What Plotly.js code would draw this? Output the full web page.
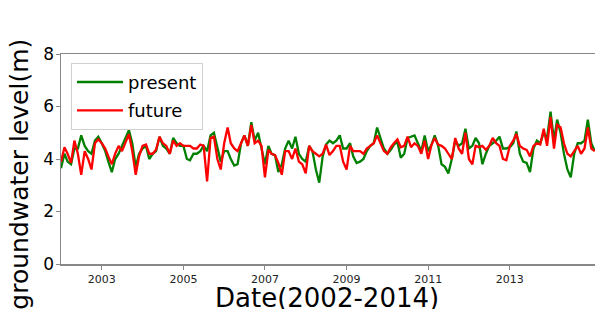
<!DOCTYPE html>
<html>
<head>
<meta charset="utf-8">
<script src="https://cdn.plot.ly/plotly-3.0.1.min.js"></script>
<style>html,body{margin:0;padding:0;background:#fff;}#chart{width:595px;height:309px;}</style>
</head>
<body>
<div id="chart"></div>
<script>
// monthly readings, starting January 2002
const startYear = 2002;
const present = [
  3.65, 4.2, 3.9, 3.8, 4.4, 4.4, 4.9, 4.5, 4.3, 4.2, 4.7, 4.85,
  4.6, 4.3, 3.9, 3.5, 4.0, 4.2, 4.5, 4.8, 5.1, 4.6, 3.7, 4.2,
  4.4, 4.5, 4.0, 4.2, 4.3, 4.85, 4.5, 4.4, 4.2, 4.8, 4.6, 4.5,
  4.5, 4.0, 3.95, 4.2, 4.2, 4.3, 4.5, 4.3, 4.9, 5.0, 4.4, 3.9,
  4.3, 4.3, 4.0, 3.75, 3.8, 4.6, 4.9, 4.5, 5.4, 4.7, 5.0, 4.4,
  3.8, 4.5, 4.2, 4.15, 3.5, 3.8, 4.4, 4.7, 4.4, 4.85, 4.2, 4.0,
  3.9, 4.5, 4.3, 3.6, 3.1, 4.1, 4.55, 4.7, 4.6, 4.7, 4.9, 4.4,
  4.4, 4.6, 4.1, 3.85, 3.9, 4.0, 4.3, 4.5, 4.6, 5.2, 4.8, 4.4,
  4.2, 4.35, 4.55, 4.65, 4.05, 4.2, 4.8, 4.85, 4.9, 4.6, 4.3, 4.9,
  4.3, 4.55, 4.9, 4.5, 3.8, 3.7, 3.45, 4.0, 4.7, 4.5, 4.6, 5.15,
  4.4, 4.5, 4.8, 4.6, 3.8, 4.2, 4.5, 4.6, 4.7, 4.85, 4.4, 4.4,
  4.45, 4.6, 5.05, 4.2, 3.9, 3.85, 3.5, 4.4, 4.7, 4.6, 5.0, 4.8,
  5.8, 4.7, 5.5, 5.0, 4.2, 3.6, 3.3, 4.2, 4.6, 4.6, 4.7, 5.5,
  4.6, 4.3
];
const future = [
  3.9, 4.45, 4.2, 3.85, 4.7, 4.2, 3.4, 4.3, 4.0, 3.6, 4.6, 4.75,
  4.6, 4.4, 4.1, 3.8, 4.2, 4.5, 4.3, 4.6, 4.95, 4.3, 3.4, 4.1,
  4.5, 4.55, 4.2, 4.2, 4.35, 4.85, 4.6, 4.5, 4.2, 4.7, 4.5, 4.6,
  4.5, 4.5, 4.5, 4.4, 4.4, 4.55, 4.5, 3.15, 4.8, 4.85, 4.0, 3.6,
  4.6, 5.2, 4.6, 4.4, 4.3, 4.6, 4.9, 4.5, 5.3, 4.6, 4.7, 4.5,
  3.3, 4.35, 4.2, 4.15, 3.85, 3.4, 4.3, 4.3, 4.0, 4.4, 3.9, 3.8,
  3.45, 4.5, 4.3, 4.2, 4.1, 4.2, 4.55, 4.15, 4.3, 4.5, 4.5, 3.9,
  3.6, 4.5, 4.3, 4.3, 4.3, 4.2, 4.4, 4.5, 4.6, 4.9, 4.6, 4.3,
  4.2, 4.45, 4.6, 4.75, 4.45, 4.5, 4.85, 4.45, 4.6, 4.5, 4.2, 4.7,
  4.0, 4.55, 4.8, 4.55, 4.5, 4.4, 4.2, 4.0, 4.8, 4.4, 4.2, 5.0,
  4.0, 3.8, 4.5, 4.45, 4.5, 4.35, 4.5, 4.8, 4.6, 4.5, 4.0, 3.95,
  4.5, 4.7, 4.95, 4.5, 4.4, 4.35, 4.1, 4.5, 4.6, 4.55, 5.15, 4.5,
  5.6, 4.4, 5.3, 5.2, 4.6, 4.2, 4.1, 4.3, 4.5, 4.2, 4.4, 5.2,
  4.4, 4.3
];
const seriesNames = ['present', 'future'];
const yTicks = [0, 2, 4, 6, 8];
const xTickLabels = ['2003', '2005', '2007', '2009', '2011', '2013'];

const dates = present.map((_, i) => {
  const y = startYear + Math.floor(i / 12);
  const m = (i % 12) + 1;
  return y + '-' + String(m).padStart(2, '0') + '-01';
});

const traces = [
  {x: dates, y: present, name: seriesNames[0], legendgroup: 'g1', type: 'scatter', mode: 'lines',
   line: {color: '#008000', width: 2.3}},
  {x: dates, y: future, name: seriesNames[1], legendgroup: 'g2', type: 'scatter', mode: 'lines',
   line: {color: '#ff0000', width: 2.3}}
];

const layout = {
  width: 595, height: 309,
  margin: {l: 61, r: 0, t: 54, b: 45},
  paper_bgcolor: '#ffffff', plot_bgcolor: '#ffffff',
  font: {family: 'DejaVu Sans', color: '#000000'},
  showlegend: true,
  legend: {
    x: 0.0187, y: 0.958, xanchor: 'left', yanchor: 'top',
    bgcolor: 'rgba(255,255,255,0.9)', bordercolor: '#d0d0d0', borderwidth: 1,
    font: {size: 18, family: 'DejaVu Sans', color: '#000'},
    itemwidth: 46,
    tracegroupgap: 2
  },
  xaxis: {
    type: 'date',
    range: ['2002-01-01', '2015-02-03'],
    tickvals: xTickLabels.map(t => t + '-01-01'),
    ticktext: xTickLabels,
    tickfont: {size: 11, color: '#222'},
    ticks: 'outside', ticklen: 4, tickcolor: '#888', tickwidth: 1,
    showgrid: false, zeroline: false,
    showline: true, linecolor: '#888', linewidth: 1.5, mirror: true
  },
  yaxis: {
    range: [0, 8],
    tickvals: yTicks,
    ticktext: yTicks.map(String),
    tickfont: {size: 17, color: '#000'},
    ticks: 'outside', ticklen: 4, tickcolor: '#888', tickwidth: 1,
    ticklabelstandoff: -2,
    showgrid: false, zeroline: false,
    showline: true, linecolor: '#888', linewidth: 1.5
  },
  annotations: [
    {text: 'Date(2002-2014)', xref: 'paper', yref: 'paper', x: 0.498, y: -0.16,
     xanchor: 'center', yanchor: 'middle', showarrow: false,
     font: {size: 26, family: 'DejaVu Sans', color: '#000'}},
    {text: 'groundwater level(m)', xref: 'paper', yref: 'paper', x: -0.0768, y: 0.43,
     xanchor: 'center', yanchor: 'middle', showarrow: false, textangle: -90,
     font: {size: 25, family: 'DejaVu Sans', color: '#000'}}
  ]
};

Plotly.newPlot('chart', traces, layout, {displayModeBar: false, staticPlot: true});
</script>
</body>
</html>
